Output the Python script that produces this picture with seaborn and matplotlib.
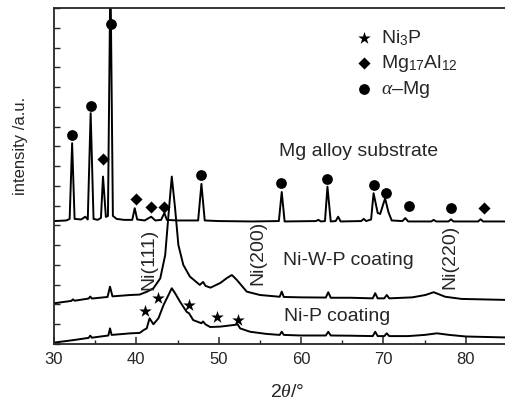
import numpy as np
import pandas as pd
import matplotlib
matplotlib.use("Agg")
import matplotlib.pyplot as plt
import seaborn as sns

# XRD traces (2theta in degrees, intensity in tick units)
substrate_tt = [30.0, 31.5, 31.9, 32.2, 32.5, 33.3, 33.8, 34.1, 34.45, 34.8, 35.3, 35.7, 35.95,
                36.3, 36.55, 36.85, 37.15, 37.6, 38.5, 39.5, 39.8, 40.1, 41.0, 41.8, 42.3, 43.0,
                43.4, 43.7, 45.0, 47.5, 47.9, 48.3, 50.0, 54.0, 57.3, 57.65, 58.0, 61.8, 62.1,
                62.4, 62.9, 63.2, 63.6, 64.2, 64.5, 64.8, 67.3, 67.6, 67.9, 68.5, 68.8, 69.3,
                69.6, 70.2, 70.6, 71.0, 72.3, 72.65, 73.0, 75.8, 76.1, 76.4, 77.9, 78.2, 78.5,
                81.5, 81.8, 82.1, 85.0]
substrate_int = [6.22, 6.25, 6.33, 10.16, 6.33, 6.30, 6.44, 6.30, 11.68, 6.33, 6.28, 6.38, 8.47,
                 6.43, 6.48, 19.0, 6.48, 6.33, 6.28, 6.28, 6.87, 6.30, 6.25, 6.44, 6.25, 6.28,
                 6.63, 6.28, 6.25, 6.25, 8.10, 6.25, 6.22, 6.20, 6.22, 7.69, 6.20, 6.22, 6.28,
                 6.20, 6.22, 7.96, 6.20, 6.22, 6.44, 6.20, 6.22, 6.33, 6.22, 6.30, 7.63, 6.63,
                 6.58, 7.37, 6.68, 6.25, 6.22, 6.37, 6.20, 6.20, 6.28, 6.20, 6.20, 6.31, 6.20,
                 6.20, 6.31, 6.20, 6.20]

niwp_tt = [30.0, 32.1, 32.3, 32.5, 34.2, 34.4, 34.6, 36.5, 36.8, 37.1, 39.3, 40.4, 41.3, 42.07,
           42.9, 43.5, 43.9, 44.3, 44.7, 45.1, 45.7, 46.5, 47.7, 48.1, 48.4, 49.0, 50.2, 51.0,
           51.6, 52.2, 53.4, 55.0, 57.4, 57.65, 57.9, 60.0, 63.0, 63.3, 63.6, 66.0, 68.7, 69.0,
           69.3, 70.1, 70.4, 70.7, 73.5, 75.1, 76.1, 77.5, 79.5, 85.0]
niwp_int = [2.06, 2.18, 2.26, 2.19, 2.30, 2.40, 2.30, 2.38, 2.90, 2.41, 2.48, 2.50, 2.65, 2.82,
            3.32, 4.50, 6.53, 8.47, 6.87, 5.01, 4.00, 3.41, 2.99, 3.14, 2.94, 2.85, 3.09, 3.34,
            3.49, 3.24, 2.65, 2.48, 2.39, 2.65, 2.38, 2.36, 2.35, 2.62, 2.34, 2.34, 2.31, 2.57,
            2.31, 2.31, 2.48, 2.31, 2.36, 2.48, 2.62, 2.39, 2.28, 2.23]

nip_tt = [30.0, 32.4, 34.2, 34.4, 34.6, 36.6, 36.8, 37.0, 39.3, 40.4, 40.9, 41.26, 41.6, 42.07,
          42.68, 43.3, 43.7, 44.3, 44.7, 45.3, 46.1, 46.4, 46.9, 47.9, 48.1, 48.4, 48.96, 50.2,
          51.8, 52.3, 52.6, 53.8, 55.8, 57.4, 57.65, 57.9, 60.0, 63.0, 63.3, 63.6, 66.0, 68.7,
          69.0, 69.3, 70.1, 70.4, 70.7, 73.0, 75.0, 76.5, 78.0, 80.0, 85.0]
nip_int = [0.07, 0.20, 0.31, 0.42, 0.32, 0.43, 0.79, 0.46, 0.54, 0.56, 0.71, 0.79, 1.30, 1.00,
           1.30, 1.97, 2.31, 2.82, 2.57, 2.14, 1.63, 1.55, 1.21, 1.05, 1.14, 0.99, 0.86, 0.88,
           0.96, 0.99, 0.79, 0.62, 0.51, 0.46, 0.62, 0.46, 0.43, 0.43, 0.62, 0.43, 0.42, 0.40,
           0.62, 0.40, 0.40, 0.54, 0.40, 0.40, 0.46, 0.54, 0.46, 0.38, 0.33]

# phase markers
mg_tt = [32.2, 34.45, 36.9, 47.9, 57.55, 63.2, 68.8, 70.3, 73.1, 78.2]
mg_int = [10.58, 12.04, 16.18, 8.55, 8.15, 8.34, 8.05, 7.66, 6.98, 6.87]
mgal_tt = [35.9, 39.9, 41.75, 43.3, 82.2]
mgal_int = [9.35, 7.34, 6.94, 6.95, 6.87]
ni3p_tt = [41.06, 42.68, 46.45, 49.76, 52.28]
ni3p_int = [1.69, 2.31, 1.97, 1.38, 1.21]

traces = pd.concat([
    pd.DataFrame({'two_theta': substrate_tt, 'intensity': substrate_int, 'sample': 'substrate'}),
    pd.DataFrame({'two_theta': niwp_tt, 'intensity': niwp_int, 'sample': 'NiWP'}),
    pd.DataFrame({'two_theta': nip_tt, 'intensity': nip_int, 'sample': 'NiP'}),
], ignore_index=True)

sns.set_style('ticks')
plt.rcParams['font.family'] = ['Liberation Sans', 'DejaVu Sans']
plt.rcParams['mathtext.fontset'] = 'custom'
plt.rcParams['mathtext.rm'] = 'Liberation Sans'
plt.rcParams['mathtext.it'] = 'Liberation Serif:italic'

fig = plt.figure(figsize=(5.05, 4.04), dpi=100)
ax = fig.add_axes([54 / 505, 60 / 404, 453 / 505, 336 / 404])

sns.lineplot(data=traces, x='two_theta', y='intensity', hue='sample', units='sample',
             estimator=None, sort=False, palette=['black'] * 3, lw=1.4, legend=False, ax=ax)

sns.scatterplot(x=ni3p_tt, y=ni3p_int, marker='*', s=90, color='black', edgecolor='black',
                linewidth=0, label='Ni$_3$P', ax=ax, zorder=5)
sns.scatterplot(x=mgal_tt, y=mgal_int, marker='D', s=38, color='black', edgecolor='black',
                linewidth=0, label='Mg$_{17}$Al$_{12}$', ax=ax, zorder=5)
sns.scatterplot(x=mg_tt, y=mg_int, marker='o', s=60, color='black', edgecolor='black',
                linewidth=0, label=r'$\mathit{\alpha}$–Mg', ax=ax, zorder=5)

ax.legend(loc='upper left', bbox_to_anchor=(0.632, 0.98), frameon=False, fontsize=14,
          handletextpad=0.4, labelspacing=0.25, borderpad=0.2, handlelength=1.0)

ax.text(57.34, 9.73, 'Mg alloy substrate', fontsize=14, ha='left', va='center')
ax.text(57.86, 4.20, 'Ni-W-P coating', fontsize=14, ha='left', va='center')
ax.text(57.95, 1.38, 'Ni-P coating', fontsize=14, ha='left', va='center')
ax.text(41.54, 4.30, 'Ni(111)', fontsize=14, rotation=90, ha='center', va='center')
ax.text(54.73, 4.63, 'Ni(200)', fontsize=14, rotation=90, ha='center', va='center')
ax.text(78.12, 4.42, 'Ni(220)', fontsize=14, rotation=90, ha='center', va='center')

ax.set_xlim(30, 85)
ax.set_ylim(0, 17)
ax.set_xticks([30, 40, 50, 60, 70, 80])
ax.set_xticks([35, 45, 55, 65, 75, 85], minor=True)
ax.set_yticks(np.arange(0, 18, 1))
ax.set_yticklabels([])
ax.tick_params(axis='x', which='major', direction='in', length=5, width=1.1, labelsize=12, pad=6)
ax.tick_params(axis='x', which='minor', direction='in', length=3, width=1.0)
ax.tick_params(axis='y', which='major', direction='in', length=4, width=1.0)
for side in ['top', 'right', 'bottom', 'left']:
    ax.spines[side].set_visible(True)
    ax.spines[side].set_linewidth(1.3)

ax.set_xlabel(r'$\mathit{2\theta/}$°', fontsize=14)
ax.xaxis.set_label_coords(0.515, -0.118)
ax.set_ylabel('intensity /a.u.', fontsize=12)
ax.yaxis.set_label_coords(-0.058, 0.59)

fig.savefig('out.png', dpi=100)
